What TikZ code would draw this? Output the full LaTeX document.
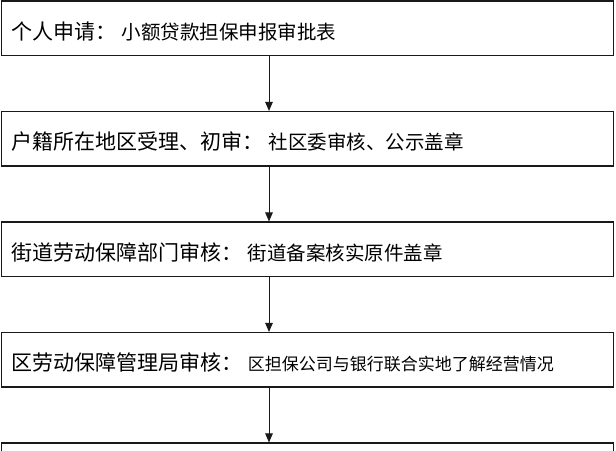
\documentclass[tikz,border=0pt]{standalone}
\usepackage{fontspec}
\setmainfont{Noto Sans CJK SC}
\usetikzlibrary{arrows.meta}

\newcommand{\headpart}[1]{{\fontsize{21pt}{24pt}\selectfont #1}}
\newcommand{\notepart}[2]{\hspace{5pt}{\fontsize{#1}{24pt}\selectfont #2}}

\begin{document}
\begin{tikzpicture}[x=1pt,y=-1pt,
    stepbox/.style={draw=black!90,line width=1.1pt,minimum width=612pt,minimum height=54.5pt,
        inner xsep=10.5pt,inner ysep=0pt,text width=591pt,align=left,text height=22pt,text depth=0pt},
    flow/.style={draw=black!90,line width=1pt,-{Triangle[length=9pt,width=7.5pt]}}]
    \useasboundingbox (0,0) rectangle (616,450);
    \clip (0,0) rectangle (616,450);
    \coordinate (ax) at (269,0);
    % steps
    \node[stepbox] (apply) at (307.5,28.25) {\headpart{个人申请：}\notepart{19.5pt}{小额贷款担保申报审批表}};
    \node[stepbox] (first) at (307.5,138.75) {\headpart{户籍所在地区受理、初审：}\notepart{19.5pt}{社区委审核、公示盖章}};
    \node[stepbox] (street) at (307.5,249.25) {\headpart{街道劳动保障部门审核：}\notepart{19.5pt}{街道备案核实原件盖章}};
    \node[stepbox] (bureau) at (307.5,359.75) {\headpart{区劳动保障管理局审核：}\notepart{17pt}{区担保公司与银行联合实地了解经营情况}};
    \node[stepbox] (next) at (307.5,470.25) {};
    % arrows
    \draw[flow] (apply.south -| ax) -- (first.north -| ax);
    \draw[flow] (first.south -| ax) -- (street.north -| ax);
    \draw[flow] (street.south -| ax) -- (bureau.north -| ax);
    \draw[flow] (bureau.south -| ax) -- (next.north -| ax);
\end{tikzpicture}
\end{document}
